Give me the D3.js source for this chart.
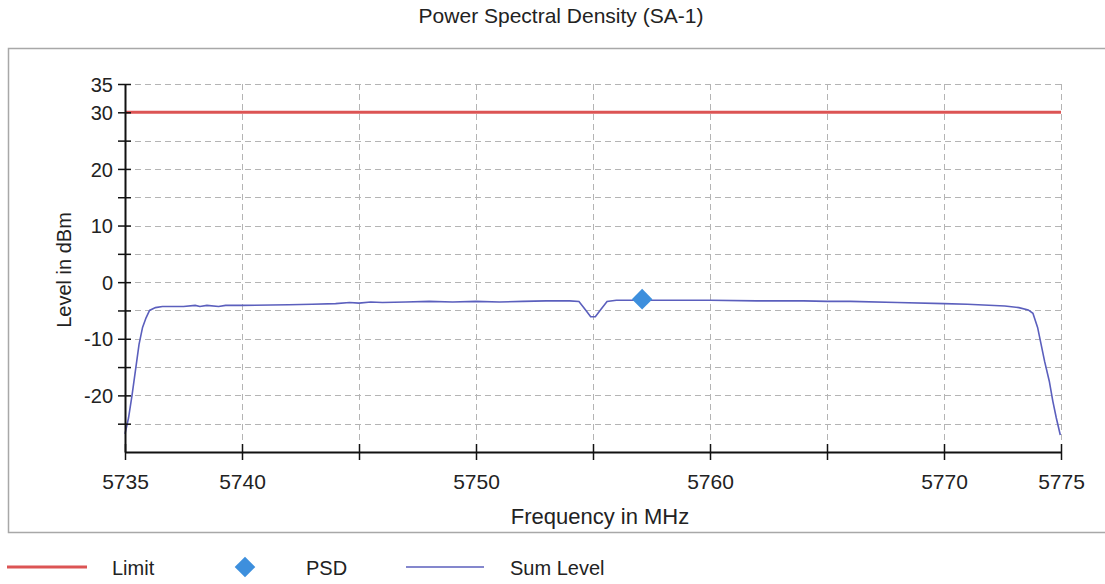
<!DOCTYPE html>
<html>
<head>
<meta charset="utf-8">
<script src="https://cdn.jsdelivr.net/npm/d3@7"></script>
<style>
  body { margin: 0; background: #fff; }
  text { font-family: "Liberation Sans", Arial, sans-serif; fill: #222; }
</style>
</head>
<body>
<div id="chart"></div>
<script>
// data
var sumFreq = [5735.0, 5735.15, 5735.3, 5735.45, 5735.6, 5735.75, 5735.9, 5736.05, 5736.3, 5736.6,
    5737.5, 5738.0, 5738.2, 5738.5, 5739.0, 5739.3, 5740, 5742, 5743, 5744,
    5744.6, 5745, 5745.5, 5746, 5747, 5748, 5749, 5750, 5751, 5752,
    5753, 5754, 5754.4, 5754.7, 5754.9, 5755.1, 5755.3, 5755.6, 5756, 5757,
    5758, 5760, 5762, 5764, 5765, 5766, 5768, 5770, 5771, 5772.6,
    5773.2, 5773.6, 5773.8, 5774.0, 5774.15, 5774.3, 5774.5, 5774.65, 5774.8, 5774.97]
var sumLevel = [-26.8, -24, -20, -15.5, -11, -8, -6.3, -5.0, -4.5, -4.3,
    -4.3, -4.1, -4.3, -4.1, -4.3, -4.1, -4.1, -4.0, -3.9, -3.8,
    -3.6, -3.7, -3.5, -3.6, -3.5, -3.4, -3.5, -3.4, -3.5, -3.4,
    -3.3, -3.3, -3.4, -5.0, -6.1, -6.1, -5.0, -3.4, -3.2, -3.2,
    -3.2, -3.2, -3.3, -3.3, -3.4, -3.4, -3.6, -3.8, -3.9, -4.2,
    -4.5, -4.9, -5.5, -8, -11, -14, -17.5, -21, -24, -27]
var limitFreq = [5735, 5775]
var limitLevel = [30, 30]
var psdFreq = [5757.1]
var psdLevel = [-3.0]

var xTicks = [5735, 5740, 5745, 5750, 5755, 5760, 5765, 5770, 5775]
var xLabels = [5735, 5740, 5750, 5760, 5770, 5775]
var yTicks = [-25, -20, -15, -10, -5, 0, 5, 10, 15, 20, 25, 30, 35]
var yLabels = [-20, -10, 0, 10, 20, 30, 35]

var W = 1105, H = 584
var limitColor = "#dc5454", sumColor = "#5b5fbd", psdColor = "#3d8fdd"

var svg = d3.select("#chart").append("svg")
    .attr("width", W).attr("height", H)

svg.append("text")
    .attr("x", 561).attr("y", 23)
    .attr("text-anchor", "middle")
    .style("font-size", "21px")
    .text("Power Spectral Density (SA-1)")

// panel frame
svg.append("path")
    .attr("d", "M1105,48.5 H8.5 V532.5 H1105")
    .attr("fill", "none")
    .attr("stroke", "#a8a8a8")
    .attr("stroke-width", 1.5)

var x = d3.scaleLinear().domain([5735, 5775]).range([125, 1061])
var y = d3.scaleLinear().domain([-30, 35]).range([452, 84])

// grid
var grid = svg.append("g")
grid.selectAll(".gy").data(yTicks).enter().append("line")
    .attr("x1", x(5735)).attr("x2", x(5775))
    .attr("y1", function(d){ return Math.round(y(d)) + 0.5 })
    .attr("y2", function(d){ return Math.round(y(d)) + 0.5 })
    .attr("stroke", "#b4b4b4").attr("stroke-dasharray", "6,4")
grid.selectAll(".gx").data(xTicks.slice(1)).enter().append("line")
    .attr("x1", function(d){ return Math.round(x(d)) + 0.5 })
    .attr("x2", function(d){ return Math.round(x(d)) + 0.5 })
    .attr("y1", y(35)).attr("y2", y(-30))
    .attr("stroke", "#b4b4b4").attr("stroke-dasharray", "6,4")

// limit
var line = d3.line()
    .x(function(d){ return x(d[0]) })
    .y(function(d){ return y(d[1]) })

svg.append("path")
    .datum(d3.zip(limitFreq, limitLevel))
    .attr("d", line)
    .attr("fill", "none").attr("stroke", limitColor).attr("stroke-width", 3)

svg.append("path")
    .datum(d3.zip(sumFreq, sumLevel))
    .attr("d", line)
    .attr("fill", "none").attr("stroke", sumColor).attr("stroke-width", 1.6)

var diamond = d3.symbol().type(d3.symbolDiamond2).size(270)
svg.selectAll(".psd").data(d3.zip(psdFreq, psdLevel)).enter().append("path")
    .attr("d", diamond)
    .attr("transform", function(d){ return "translate(" + x(d[0]) + "," + y(d[1]) + ")" })
    .attr("fill", psdColor)

// axes, ticks on both sides of the line
var yAxis = d3.axisLeft(y).tickValues(yTicks.concat([-30])).tickSize(6).tickSizeOuter(0)
    .tickFormat(function(d){ return yLabels.includes(d) ? d : "" })
var gy = svg.append("g")
    .attr("transform", "translate(125,0)")
    .call(yAxis)
gy.select(".domain").attr("stroke", "#111").attr("stroke-width", 2)
gy.selectAll(".tick line").attr("x2", 6).attr("x1", -7).attr("stroke", "#111").attr("stroke-width", 1.5)
gy.selectAll(".tick").filter(function(d){ return d == -30 }).select("line").remove()
gy.selectAll(".tick text").attr("x", -12).attr("dy", "0.36em")
    .style("font-size", "20px").style("font-family", "Liberation Sans, Arial").attr("fill", "#222")

var xAxis = d3.axisBottom(x).tickValues(xTicks).tickSize(8).tickSizeOuter(0)
    .tickFormat(function(d){ return xLabels.includes(d) ? d : "" })
var gx = svg.append("g")
    .attr("transform", "translate(0,452)")
    .call(xAxis)
gx.select(".domain").attr("stroke", "#111").attr("stroke-width", 2)
gx.selectAll(".tick line").attr("y1", -8).attr("y2", 8).attr("stroke", "#111").attr("stroke-width", 1.5)
gx.selectAll(".tick text").attr("y", 37).attr("dy", "0")
    .style("font-size", "21px").style("font-family", "Liberation Sans, Arial").attr("fill", "#222")

svg.append("text")
    .attr("x", 600).attr("y", 524)
    .attr("text-anchor", "middle")
    .style("font-size", "22px")
    .text("Frequency in MHz")

svg.append("text")
    .attr("transform", "translate(71,270) rotate(-90)")
    .attr("text-anchor", "middle")
    .style("font-size", "20px")
    .text("Level in dBm")

// legend
var leg = svg.append("g").attr("transform", "translate(0,567)")
leg.append("line").attr("x1", 7).attr("x2", 87).attr("stroke", limitColor).attr("stroke-width", 3)
leg.append("text").attr("x", 112).attr("y", 8).style("font-size", "20px").text("Limit")
leg.append("path").attr("d", diamond).attr("transform", "translate(245,0)").attr("fill", psdColor)
leg.append("text").attr("x", 306).attr("y", 8).style("font-size", "20px").text("PSD")
leg.append("line").attr("x1", 406).attr("x2", 484).attr("stroke", sumColor).attr("stroke-width", 1.6)
leg.append("text").attr("x", 510).attr("y", 8).style("font-size", "20px").text("Sum Level")
</script>
</body>
</html>
